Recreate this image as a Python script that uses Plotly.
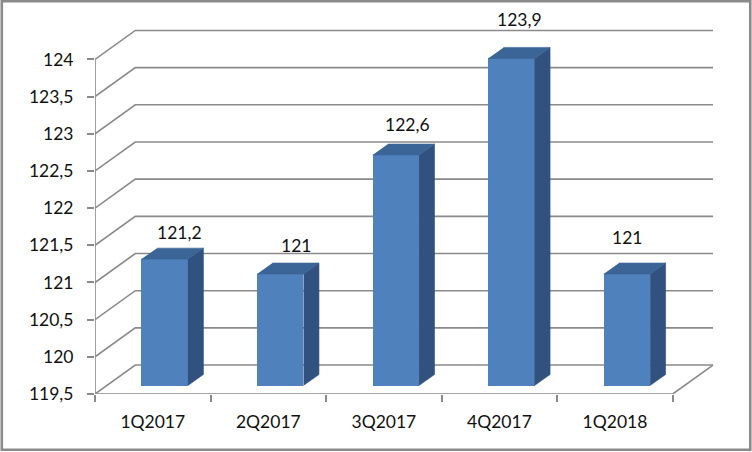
import plotly.graph_objects as go

categories = ["1Q2017", "2Q2017", "3Q2017", "4Q2017", "1Q2018"]
values = [121.2, 121.0, 122.6, 123.9, 121.0]
y_ticks = [119.5, 120, 120.5, 121, 121.5, 122, 122.5, 123, 123.5, 124]
label_shift_x = [15.2, 15.4, 12, 8.3, 0.2]
label_shift_y = [26.5, 28.4, 30.4, 38.7, 36.4]

W, H = 752, 452
LEFT, BOTTOM_Y, RIGHT = 94.5, 394.5, 716.0
TOP = 6.0
CAT_PX = (672.7 - 94.5) / 5
UNIT_PX = 335.0 / 4.5
GRID = "#8a8a8a"
INK = "#111111"
FONT = "Lato"
FONT_SIZE = 17.5

def fmt(v):
    return f"{v:g}".replace(".", ",")

x_span = (RIGHT - LEFT) / CAT_PX
y_top = y_ticks[0] + (BOTTOM_Y - TOP) / UNIT_PX
n = len(categories)

# wall depth in axis units
wall_dx = 40.3 / CAT_PX
wall_dy = 29.0 / UNIT_PX
# bar plane offset relative to the front plane
plane_dx = 11.93 / CAT_PX
plane_dy = 8.5 / UNIT_PX
# bar geometry
bar_w = 46.5 / CAT_PX
depth_dx = 15.5 / CAT_PX
depth_dy = 11.0 / UNIT_PX
x_pos = list(range(n))
base = y_ticks[0]

fig = go.Figure()

# wall gridlines and floor edges (primary axes)
xs, ys = [], []
for t in y_ticks:
    xs += [-0.5, -0.5 + wall_dx, n - 0.5 + wall_dx, None]
    ys += [t, t + wall_dy, t + wall_dy, None]
xs += [n - 0.5, n - 0.5 + wall_dx, None, -0.5, n - 0.5, None, -0.5, -0.5]
ys += [base, base + wall_dy, None, base, base, None, base, y_ticks[-1]]
fig.add_trace(go.Scatter(x=xs, y=ys, mode="lines", line=dict(color=GRID, width=1.6),
                         hoverinfo="skip", showlegend=False, xaxis="x", yaxis="y"))

# front faces
fig.add_trace(go.Bar(x=x_pos, y=[v - base for v in values], base=base, width=bar_w,
                     marker=dict(color="#4F81BD", line=dict(width=0)),
                     showlegend=False, xaxis="x2", yaxis="y2",
                     customdata=categories, hovertemplate="%{customdata}<extra></extra>"))

# side and top faces
sx, sy, tx, ty = [], [], [], []
for x, v in zip(x_pos, values):
    l, r = x - bar_w / 2, x + bar_w / 2
    sx += [r, r + depth_dx, r + depth_dx, r, None]
    sy += [base, base + depth_dy, v + depth_dy, v, None]
    tx += [l, r, r + depth_dx, l + depth_dx, None]
    ty += [v, v, v + depth_dy, v + depth_dy, None]
fig.add_trace(go.Scatter(x=sx, y=sy, mode="lines", fill="toself", fillcolor="#31527F",
                         line=dict(width=0.6, color="#31527F"), hoverinfo="skip",
                         showlegend=False, xaxis="x2", yaxis="y2"))
fig.add_trace(go.Scatter(x=tx, y=ty, mode="lines", fill="toself", fillcolor="#3B6596",
                         line=dict(width=0.6, color="#3B6596"), hoverinfo="skip",
                         showlegend=False, xaxis="x2", yaxis="y2"))

annotations = [
    dict(x=x, y=v, xref="x2", yref="y2", text=fmt(v), showarrow=False,
         xshift=sx_, yshift=sy_, xanchor="center", yanchor="middle",
         font=dict(family=FONT, size=FONT_SIZE, color=INK))
    for x, v, sx_, sy_ in zip(x_pos, values, label_shift_x, label_shift_y)
]

plot_w = RIGHT - LEFT
plot_h = BOTTOM_Y - TOP
frame = dict(
    type="rect", xref="paper", yref="paper", layer="above",
    x0=(1.2 - LEFT) / plot_w, x1=(750.3 - LEFT) / plot_w,
    y0=(BOTTOM_Y - 450.3) / plot_h, y1=(BOTTOM_Y - 1.2) / plot_h,
    line=dict(color=GRID, width=2.6), fillcolor="rgba(0,0,0,0)",
)

fig.update_layout(
    width=W, height=H, autosize=False,
    margin=dict(l=LEFT, r=W - RIGHT, t=TOP, b=H - BOTTOM_Y, pad=0),
    paper_bgcolor="white", plot_bgcolor="white",
    font=dict(family=FONT, size=FONT_SIZE, color=INK),
    showlegend=False, bargap=0, annotations=annotations, shapes=[frame],
    xaxis=dict(
        range=[-0.5, x_span - 0.5], showgrid=False, zeroline=False, showline=False,
        tickmode="array", tickvals=x_pos, ticktext=categories, ticks="",
        minor=dict(tickmode="array", tickvals=[i - 0.5 for i in range(n + 1)],
                   ticks="outside", ticklen=7, tickwidth=1.6, tickcolor=GRID, showgrid=False),
        ticklabelstandoff=15,
    ),
    yaxis=dict(
        range=[base, y_top], showgrid=False, zeroline=False, showline=False,
        tickmode="array", tickvals=y_ticks, ticktext=[fmt(t) for t in y_ticks],
        ticks="outside", ticklen=7, tickwidth=1.6, tickcolor=GRID,
        ticklabelstandoff=10,
    ),
    xaxis2=dict(range=[-0.5 - plane_dx, x_span - 0.5 - plane_dx], overlaying="x",
                visible=False, fixedrange=True),
    yaxis2=dict(range=[base - plane_dy, y_top - plane_dy], overlaying="y",
                visible=False, fixedrange=True),
)

fig.write_html("out.html", config={"displayModeBar": False},
               post_script="document.body.style.margin='0';")
